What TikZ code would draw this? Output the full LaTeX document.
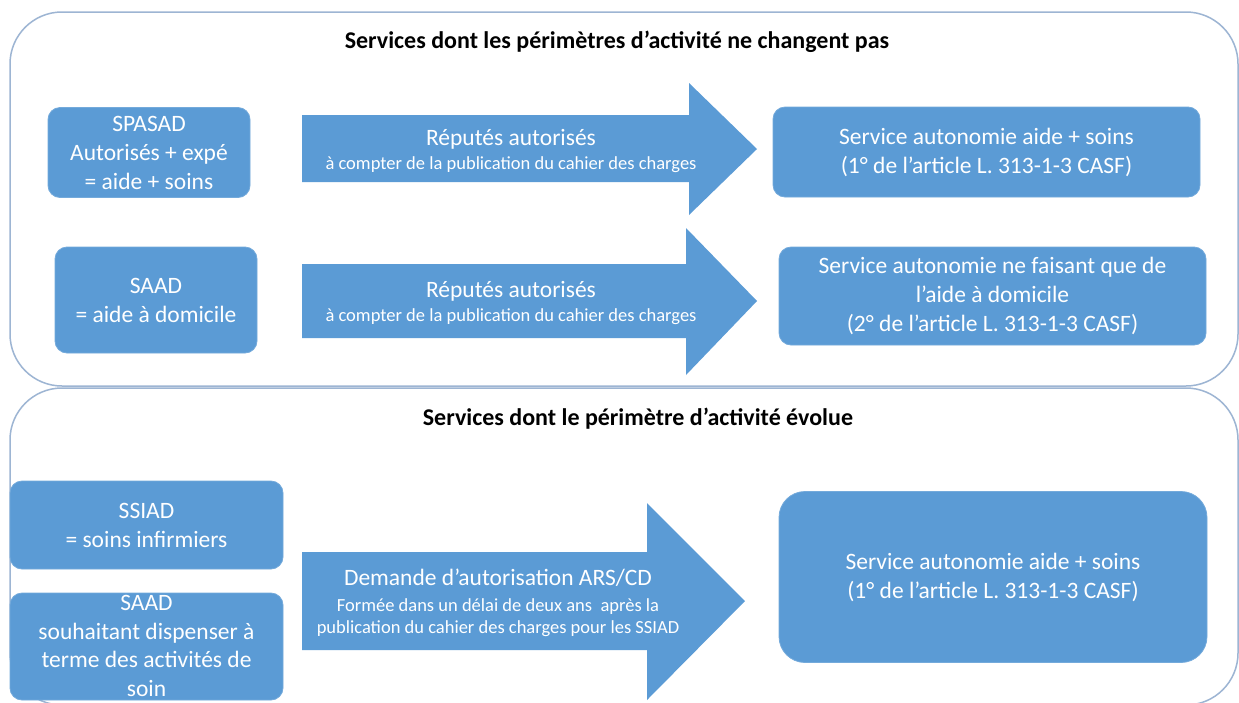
\documentclass[tikz,border=0pt]{standalone}
\usepackage{fontspec}
\setmainfont{Carlito}
\definecolor{boxblue}{HTML}{5B9BD5}
\definecolor{frameblue}{HTML}{9DB5D3}
\newcommand{\smalltxt}{\fontsize{18.5}{24}\selectfont}
\begin{document}
\begin{tikzpicture}[x=1pt,y=-1pt,
  container/.style={draw=frameblue, line width=1.5pt, rounded corners=52pt},
  bluebox/.style={fill=boxblue, draw=boxblue!85!white, line width=0.8pt, rounded corners=12pt,
    text=white, align=center, inner sep=0pt,
    font=\fontsize{23.5}{29}\selectfont},
  blockarrow/.style={fill=boxblue},
  arrowtext/.style={text=white, align=center, inner sep=0pt, font=\fontsize{23.5}{24}\selectfont},
  titletext/.style={font=\fontsize{24}{28}\selectfont\bfseries, text=black, inner sep=0pt}]
\useasboundingbox (0,0) rectangle (1239,702);
\clip (0,0) rectangle (1239,702);
\fill[white] (0,0) rectangle (1239,702);

% containers
\draw[container] (10,12) rectangle (1238,386);
\draw[container] (10,388) rectangle (1238,705);

% titles
\node[titletext] (t1) at (617,42) {Services dont les périmètres d’activité ne changent pas};
\node[titletext] (t2) at (638,419) {Services dont le périmètre d’activité évolue};

% left boxes
\node[bluebox, minimum width=202pt, minimum height=90pt] (spasad) at (149,152.5)
  {SPASAD\\Autorisés + expé\\= aide + soins};
\node[bluebox, minimum width=202pt, minimum height=106pt] (saad) at (156,300)
  {SAAD\\= aide à domicile};
\node[bluebox, minimum width=273pt, minimum height=88pt] (ssiad) at (146.5,525)
  {SSIAD\\= soins infirmiers};
\node[bluebox, minimum width=273pt, minimum height=107pt] (saadb) at (146.5,646.5) {};
\node[text=white, align=center, inner sep=0pt, font=\fontsize{23.5}{28.5}\selectfont] (saadbt) at (146.5,646)
  {SAAD\\souhaitant dispenser à\\terme des activités de\\soin};

% right boxes
\node[bluebox, minimum width=427pt, minimum height=90pt] (r1) at (986.5,152)
  {Service autonomie aide + soins\\(1° de l’article L. 313-1-3 CASF)};
\node[bluebox, minimum width=427pt, minimum height=98pt] (r2) at (992.5,296)
  {Service autonomie ne faisant que de\\l’aide à domicile\\(2° de l’article L. 313-1-3 CASF)};
\node[bluebox, rounded corners=26pt, minimum width=428pt, minimum height=171pt] (r3) at (993,577)
  {Service autonomie aide + soins\\(1° de l’article L. 313-1-3 CASF)};

% block arrows
\fill[blockarrow] (302,115) -- (689,115) -- (689,83) -- (757,149) -- (689,215) -- (689,182) -- (302,182) -- cycle;
\fill[blockarrow] (302,264) -- (686,264) -- (686,228) -- (757,301) -- (686,375) -- (686,338) -- (302,338) -- cycle;
\fill[blockarrow] (302,552) -- (647,552) -- (647,503) -- (745,601) -- (647,700) -- (647,650) -- (302,650) -- cycle;

% arrow texts
\node[arrowtext] (a1) at (511,151)
  {Réputés autorisés\\{\smalltxt à compter de la publication du cahier des charges}};
\node[arrowtext] (a2) at (511,303)
  {Réputés autorisés\\{\smalltxt à compter de la publication du cahier des charges}};
\node[arrowtext] (a3) at (498,603)
  {Demande d’autorisation ARS/CD\\[2pt]{\smalltxt Formée dans un délai de deux ans~ après la}\\[-2pt]{\smalltxt publication du cahier des charges pour les SSIAD}};
\end{tikzpicture}
\end{document}
